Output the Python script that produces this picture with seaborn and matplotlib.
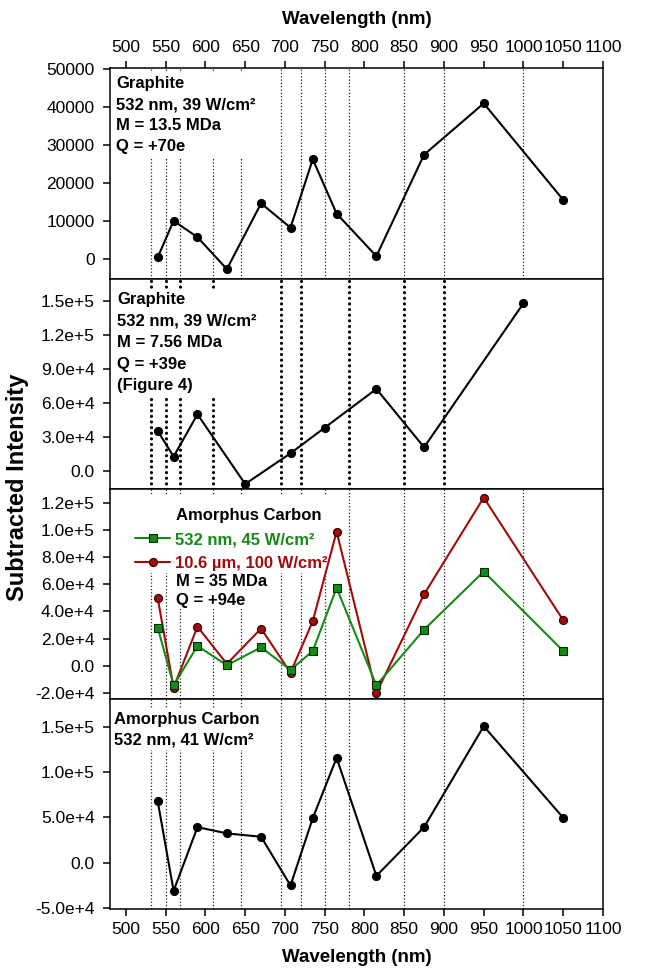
import matplotlib
matplotlib.use("Agg")
import matplotlib.pyplot as plt
import seaborn as sns
from matplotlib.patches import Rectangle
from matplotlib.ticker import FixedLocator, FuncFormatter

# ---------------- data ----------------
wavelength = [540, 560, 590, 627, 670, 707, 735, 765, 815, 875, 950, 1050]
graphite_13_5MDa = [400, 10000, 5700, -2700, 14600, 8200, 26200, 11900, 700, 27400, 40900, 15500]

wavelength_fig4 = [540, 560, 590, 650, 707, 750, 815, 875, 1000]
graphite_7_56MDa = [35300, 12700, 50000, -11500, 15600, 38200, 72400, 20900, 148000]

amc_532nm_45W = [28100, -14300, 14600, 400, 13600, -3000, 10900, 57300, -14300, 26600, 69300, 10900]
amc_10_6um_100W = [49700, -16000, 28800, 1400, 27400, -5000, 32800, 98700, -20000, 52600, 123700, 33500]
amc_532nm_41W = [67700, -31000, 39200, 32300, 28600, -25100, 49100, 115600, -14500, 39200, 150400, 49500]

filter_edges = [532, 550, 568, 610, 645, 695, 720, 750, 780, 850, 900, 1000]
filter_edges_fig4 = [532, 550, 568, 610, 695, 720, 780, 850, 900]

x_ticks = [500, 550, 600, 650, 700, 750, 800, 850, 900, 950, 1000, 1050, 1100]
y_ticks_1 = [0, 10000, 20000, 30000, 40000, 50000]
y_ticks_2 = [0, 30000, 60000, 90000, 120000, 150000]
y_ticks_3 = [-20000, 0, 20000, 40000, 60000, 80000, 100000, 120000]
y_ticks_4 = [-50000, 0, 50000, 100000, 150000]

text_1 = "Graphite\n532 nm, 39 W/cm\u00b2\nM = 13.5 MDa\nQ = +70e"
text_2 = "Graphite\n532 nm, 39 W/cm\u00b2\nM = 7.56 MDa\nQ = +39e\n(Figure 4)"
text_3_title = "Amorphus Carbon"
text_3_info = "M = 35 MDa\nQ = +94e"
label_green = "532 nm, 45 W/cm\u00b2"
label_red = "10.6 \u00b5m, 100 W/cm\u00b2"
text_4 = "Amorphus Carbon\n532 nm, 41 W/cm\u00b2"

# ---------------- style ----------------
sns.set_style("ticks")
plt.rcParams["font.family"] = ["Liberation Sans", "DejaVu Sans"]
plt.rcParams.update({
    "axes.linewidth": 1.1,
    "text.color": "black",
    "axes.labelcolor": "black",
    "xtick.color": "black",
    "ytick.color": "black",
    "axes.edgecolor": "black",
})

GREEN = "#168a16"
RED = "#a00c0c"

W, H = 657, 968
fig = plt.figure(figsize=(W / 100, H / 100), dpi=100)

left_px, right_px = 110, 603
bounds = [(68, 279), (279, 489), (489, 699), (699, 909)]
axes = []
for top, bot in bounds:
    ax = fig.add_axes([left_px / W, 1 - bot / H, (right_px - left_px) / W, (bot - top) / H])
    axes.append(ax)


def sci_fmt(v, pos=None):
    if v == 0:
        return "0.0"
    mant, exp = f"{v:.1e}".split("e")
    return f"{mant}e+{int(exp)}"


def int_fmt(v, pos=None):
    return f"{int(round(v))}"


ylims = [(-5300, 50200), (-15900, 169400), (-24400, 130000), (-51000, 180400)]
yticks = [y_ticks_1, y_ticks_2, y_ticks_3, y_ticks_4]
fmts = [int_fmt, sci_fmt, sci_fmt, sci_fmt]

# filter edge dotted lines
for i in (0, 2, 3):
    for x in filter_edges:
        axes[i].axvline(x, color="#222222", lw=0.9, ls=":", zorder=1)
for x in filter_edges_fig4:
    axes[1].axvline(x, color="black", lw=2.3, ls=(0, (0.01, 1.75)), dash_capstyle="round", zorder=1)

line_kw = dict(lw=1.5, zorder=3, sort=False)
mk = dict(markersize=5.8, markeredgewidth=0.8)

sns.lineplot(x=wavelength, y=graphite_13_5MDa, ax=axes[0], color="black", marker="o",
             markeredgecolor="black", **mk, **line_kw)
sns.lineplot(x=wavelength_fig4, y=graphite_7_56MDa, ax=axes[1], color="black", marker="o",
             markeredgecolor="black", **mk, **line_kw)
sns.lineplot(x=wavelength, y=amc_10_6um_100W, ax=axes[2], color=RED, marker="o",
             markerfacecolor=RED, markeredgecolor="#300000", label=label_red, **mk, **line_kw)
sns.lineplot(x=wavelength, y=amc_532nm_45W, ax=axes[2], color=GREEN, marker="s",
             markerfacecolor=GREEN, markeredgecolor="#002a00", label=label_green, **mk, **line_kw)
sns.lineplot(x=wavelength, y=amc_532nm_41W, ax=axes[3], color="black", marker="o",
             markeredgecolor="black", **mk, **line_kw)

for i, ax in enumerate(axes):
    ax.set_xlim(480, 1100)
    ax.set_ylim(*ylims[i])
    ax.yaxis.set_major_locator(FixedLocator(yticks[i]))
    ax.yaxis.set_major_formatter(FuncFormatter(fmts[i]))
    ax.xaxis.set_major_locator(FixedLocator(x_ticks))
    ax.tick_params(axis="y", direction="out", length=5, width=1.1, labelsize=12.5, pad=6)
    ax.tick_params(axis="x", direction="out", length=5, width=1.1, labelsize=12.5, pad=4)
    for s in ax.spines.values():
        s.set_visible(True)
        s.set_linewidth(1.1)
        s.set_color("black")
    if i == 0:
        ax.xaxis.tick_top()
        ax.tick_params(axis="x", top=True, bottom=False, labeltop=True, labelbottom=False)
    elif i == 3:
        ax.tick_params(axis="x", top=False, bottom=True, labeltop=False, labelbottom=True)
    else:
        ax.tick_params(axis="x", top=False, bottom=False, labeltop=False, labelbottom=False)
    ax.set_xlabel("")
    ax.set_ylabel("")

box = dict(facecolor="white", edgecolor="none", pad=2)
tk = dict(fontsize=12, fontweight="bold", ha="left", va="top", linespacing=1.5, zorder=5, bbox=box)

axes[0].text(0.012, 0.962, text_1, transform=axes[0].transAxes, **tk)
tk2 = dict(tk)
tk2["linespacing"] = 1.56
axes[1].text(0.014, 0.94, text_2, transform=axes[1].transAxes, **tk2)
axes[3].text(0.008, 0.94, text_4, transform=axes[3].transAxes, **tk)

# white background behind the legend block of panel 3
axes[2].add_patch(Rectangle((0.047, 0.60), 0.405, 0.367, transform=axes[2].transAxes,
                            facecolor="white", edgecolor="none", zorder=2))
axes[2].text(0.134, 0.876, text_3_title, transform=axes[2].transAxes, fontsize=12,
             fontweight="bold", ha="left", va="center", zorder=5)
tk3 = dict(tk)
tk3["linespacing"] = 1.3
tk3["zorder"] = 4
tk3["bbox"] = dict(facecolor="white", edgecolor="none", pad=0.5)
axes[2].text(0.134, 0.594, text_3_info, transform=axes[2].transAxes, **tk3)

h, l = axes[2].get_legend_handles_labels()
order = [l.index(label_green), l.index(label_red)]
leg = axes[2].legend([h[k] for k in order], [l[k] for k in order], loc="upper left",
                     bbox_to_anchor=(0.044, 0.81), borderaxespad=0, borderpad=0.2,
                     handlelength=2.1, handletextpad=0.3, labelspacing=0.5,
                     frameon=False, prop=dict(size=12, weight="bold"), labelcolor="linecolor")
leg.set_zorder(6)

# axis labels
cx = (left_px + right_px) / 2 / W
fig.text(cx, 1 - 20 / H, "Wavelength (nm)", ha="center", va="center", fontsize=13.5, fontweight="bold")
fig.text(cx, 1 - 957 / H, "Wavelength (nm)", ha="center", va="center", fontsize=13.5, fontweight="bold")
fig.text(18 / W, 1 - 487 / H, "Subtracted Intensity", ha="center", va="center", rotation=90,
         fontsize=17, fontweight="bold", family=["Liberation Sans Narrow", "Liberation Sans"])

fig.savefig("out.png", dpi=100)
